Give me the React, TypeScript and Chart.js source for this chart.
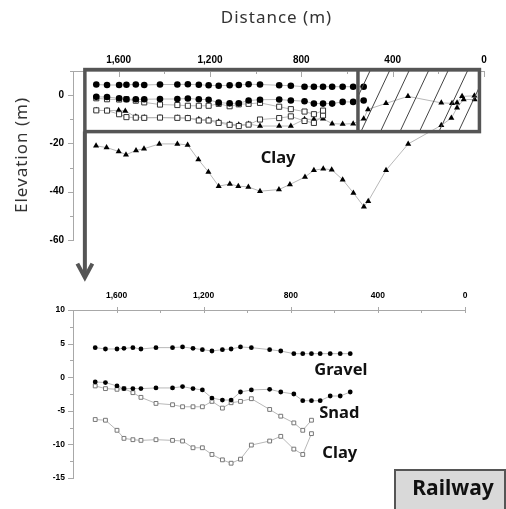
import { useEffect, useRef } from 'react';
import { Chart, registerables } from 'chart.js';

Chart.register(...registerables);

// ---------- data (distance in m, elevation in m) ----------
const stationDist = [1698, 1651, 1598, 1566, 1525, 1488, 1419, 1343, 1297, 1249, 1206, 1162, 1114, 1074, 1031, 981, 897, 846, 786, 745, 705, 665, 619, 573, 527];
const gravelTop = [4.4, 4.2, 4.2, 4.3, 4.4, 4.2, 4.4, 4.4, 4.5, 4.3, 4.1, 3.9, 4.1, 4.2, 4.5, 4.4, 4.1, 3.9, 3.5, 3.5, 3.5, 3.5, 3.5, 3.5, 3.5];
const sandTop = [-0.7, -0.8, -1.3, -1.7, -1.7, -1.7, -1.6, -1.6, -1.4, -1.7, -1.9, -3.1, -3.4, -3.4, -2.2, -1.9, -1.8, -2.2, -2.5, -3.5, -3.5, -3.5, -2.8, -2.8, -2.2];
const sandBottom = [-1.3, -1.7, -1.8, -1.7, -2.3, -3.0, -3.9, -4.1, -4.4, -4.4, -4.4, -3.6, -4.6, -3.8, -3.6, -3.2, -4.8, -5.8, -6.8, -7.9, -6.4];
const clayTop = [-6.3, -6.4, -7.9, -9.1, -9.3, -9.4, -9.3, -9.4, -9.5, -10.5, -10.5, -11.5, -12.3, -12.8, -12.2, -10.1, -9.5, -8.8, -10.7, -11.5, -8.4];

const upperTriDist = [1698, 1651, 1600, 1571, 1525, 1488, 1419, 1343, 1297, 1249, 1206, 1162, 1114, 1074, 1031, 981, 897, 846, 786, 745, 705, 665, 619, 573, 527, 508, 429, 333, 187, 140, 118, 96, 42];
const upperTri = [-6.3, -6.4, -6.3, -6.6, -9.0, -9.3, -9.3, -9.4, -9.5, -10.0, -10.2, -11.0, -12.0, -12.3, -12.0, -12.8, -12.8, -12.8, -10.0, -10.0, -9.8, -11.8, -12.0, -11.8, -9.8, -5.9, -3.4, -0.5, -3.2, -3.4, -3.2, -0.5, -0.3];

const deepTriDist = [1699, 1653, 1600, 1568, 1524, 1489, 1422, 1343, 1298, 1251, 1207, 1162, 1113, 1076, 1032, 981, 898, 850, 784, 745, 704, 667, 619, 572, 526, 507, 429, 332, 187, 143, 118, 89, 41];
const deepTri = [-21.0, -21.7, -23.3, -24.7, -22.9, -22.2, -20.2, -20.2, -20.6, -26.7, -31.8, -37.7, -36.8, -37.7, -38.0, -39.8, -39.1, -37.0, -33.9, -31.1, -30.5, -30.9, -35.0, -40.5, -46.2, -43.9, -31.1, -20.2, -12.5, -9.5, -5.2, -1.8, -1.8];

// axis settings
const distRange = [0, 1800];
const topElevRange = [-60, 10];
const bottomElevRange = [-15, 10];

// annotation anchors (data units)
const zoomBox = { far: 1748, split: 552, near: 20, top: 10.6, bottom: -15.1 };
const topLabels = [{ text: 'Clay', d: 902, v: -26.3 }];
const bottomLabels = [
  { text: 'Gravel', d: 570, v: 1.1 },
  { text: 'Snad', d: 577, v: -5.4 },
  { text: 'Clay', d: 575, v: -11.3 },
];

const AXIS = '#a8a8a8';
const LINE = '#b8b8b8';
const TICK_FONT = 'Liberation Sans';
const TEXT_FONT = '"Noto Sans", "Open Sans", sans-serif';

const pts = (d: number[], v: number[]) => v.map((y, i) => ({ x: d[i], y }));

function tickMarks(id: string, xMaj: [number, number], xMin: [number, number], yMaj: number, yMin: number) {
  return {
    id,
    afterDraw(chart: any) {
      const { ctx, chartArea: a, scales } = chart;
      const x = scales.x, y = scales.y;
      ctx.save();
      ctx.strokeStyle = AXIS;
      ctx.lineWidth = 1;
      ctx.beginPath();
      x.ticks.forEach((t: any) => {
        const px = Math.round(x.getPixelForValue(t.value)) + 0.5;
        const [s, e] = t.label ? xMaj : xMin;
        ctx.moveTo(px, a.top + s);
        ctx.lineTo(px, a.top + e);
      });
      y.ticks.forEach((t: any) => {
        const py = Math.round(y.getPixelForValue(t.value)) + 0.5;
        const len = t.label ? yMaj : yMin;
        ctx.moveTo(a.left - len, py);
        ctx.lineTo(a.left, py);
      });
      ctx.stroke();
      ctx.restore();
    },
  };
}

function axes(yMin: number, yMax: number, yStep: number, yLabelEvery: number, fontSize: number, yPad: number, xPad: number) {
  return {
    x: {
      type: 'linear',
      position: 'top',
      reverse: true,
      min: distRange[0],
      max: distRange[1],
      afterFit: (s: any) => { s.height = 30; },
      grid: { display: true, drawOnChartArea: false, drawTicks: false, color: 'rgba(0,0,0,0)' },
      border: { display: true, color: AXIS, width: 1 },
      ticks: {
        stepSize: 200,
        autoSkip: false,
        maxRotation: 0,
        padding: xPad,
        color: '#000',
        font: { family: TICK_FONT, weight: 'bold', size: fontSize },
        callback: (v: any) => (Number(v) % 400 === 0 ? Number(v).toLocaleString('en-US') : ''),
      },
    },
    y: {
      type: 'linear',
      min: yMin,
      max: yMax,
      afterFit: (s: any) => { s.width = 40; },
      grid: { display: true, drawOnChartArea: false, drawTicks: false, color: 'rgba(0,0,0,0)' },
      border: { display: true, color: AXIS, width: 1 },
      ticks: {
        stepSize: yStep,
        autoSkip: false,
        padding: yPad,
        color: '#000',
        font: { family: TICK_FONT, weight: 'bold', size: fontSize },
        callback: (v: any) => (Math.abs(Number(v) % yLabelEvery) < 1e-9 ? String(v) : ''),
      },
    },
  };
}

const topOverlay = {
  id: 'topOverlay',
  afterDraw(chart: any) {
    const { ctx, chartArea: a, scales } = chart;
    const x = scales.x, y = scales.y;
    ctx.save();
    // titles
    ctx.fillStyle = '#333';
    ctx.font = `17px ${TEXT_FONT}`;
    ctx.textAlign = 'center';
    ctx.textBaseline = 'middle';
    (ctx as any).letterSpacing = '1px';
    ctx.fillText('Distance (m)', (a.left + a.right) / 2 - 2, 18);
    ctx.save();
    ctx.translate(22, 155);
    ctx.rotate(-Math.PI / 2);
    ctx.fillText('Elevation (m)', 0, 0);
    ctx.restore();
    (ctx as any).letterSpacing = '0px';

    // box
    const bx0 = x.getPixelForValue(zoomBox.far);
    const bxm = x.getPixelForValue(zoomBox.split);
    const bx1 = x.getPixelForValue(zoomBox.near);
    const by0 = y.getPixelForValue(zoomBox.top);
    const by1 = y.getPixelForValue(zoomBox.bottom);

    // hatch
    ctx.save();
    ctx.beginPath();
    ctx.rect(bxm, by0, bx1 - bxm, by1 - by0);
    ctx.clip();
    ctx.strokeStyle = '#444';
    ctx.lineWidth = 1;
    ctx.beginPath();
    const h = by1 - by0;
    for (let k = -4; k < 12; k++) {
      const xb = bxm + 3 + k * 19.5;
      ctx.moveTo(xb, by1);
      ctx.lineTo(xb + h * 0.47, by0);
    }
    ctx.stroke();
    ctx.restore();

    ctx.strokeStyle = '#555';
    ctx.lineWidth = 3.5;
    ctx.lineJoin = 'miter';
    ctx.strokeRect(bx0, by0, bx1 - bx0, by1 - by0);
    ctx.beginPath();
    ctx.moveTo(bxm, by0);
    ctx.lineTo(bxm, by1);
    ctx.stroke();

    // arrow
    const tipY = by1 + 146;
    ctx.lineWidth = 4;
    ctx.beginPath();
    ctx.moveTo(bx0, by1);
    ctx.lineTo(bx0, tipY - 2);
    ctx.stroke();
    ctx.lineCap = 'butt';
    ctx.beginPath();
    ctx.moveTo(bx0 - 7.5, tipY - 14);
    ctx.lineTo(bx0, tipY);
    ctx.lineTo(bx0 + 7.5, tipY - 14);
    ctx.stroke();

    // labels
    ctx.fillStyle = '#111';
    ctx.font = `bold 16.5px ${TEXT_FONT}`;
    topLabels.forEach((l) => ctx.fillText(l.text, x.getPixelForValue(l.d), y.getPixelForValue(l.v)));
    ctx.restore();
  },
};

const bottomOverlay = {
  id: 'bottomOverlay',
  afterDraw(chart: any) {
    const { ctx, scales } = chart;
    const x = scales.x, y = scales.y;
    ctx.save();
    ctx.fillStyle = '#111';
    ctx.textAlign = 'center';
    ctx.textBaseline = 'middle';
    ctx.font = `bold 16.5px ${TEXT_FONT}`;
    bottomLabels.forEach((l) => ctx.fillText(l.text, x.getPixelForValue(l.d), y.getPixelForValue(l.v)));
    // Railway tag
    ctx.fillStyle = '#d9d9d9';
    ctx.fillRect(395, 470, 110, 45);
    ctx.strokeStyle = '#555';
    ctx.lineWidth = 2;
    ctx.strokeRect(395, 470, 110, 45);
    ctx.fillStyle = '#111';
    ctx.font = `bold 21px ${TEXT_FONT}`;
    ctx.fillText('Railway', 453, 489.5);
    ctx.restore();
  },
};

const lineBase = { borderColor: LINE, borderWidth: 1, tension: 0, fill: false };

export default function App() {
  const topRef = useRef<HTMLCanvasElement>(null);
  const botRef = useRef<HTMLCanvasElement>(null);

  useEffect(() => {
    const top = new Chart(topRef.current as HTMLCanvasElement, {
      type: 'line',
      data: {
        datasets: [
          { ...lineBase, label: 'Gravel', data: pts(stationDist, gravelTop), pointStyle: 'circle', pointRadius: 3.3, pointBackgroundColor: '#000', pointBorderWidth: 0 },
          { ...lineBase, label: 'Sand top', data: pts(stationDist, sandTop), pointStyle: 'circle', pointRadius: 3.3, pointBackgroundColor: '#000', pointBorderWidth: 0 },
          { ...lineBase, label: 'Sand bottom', data: pts(stationDist, sandBottom), pointStyle: 'rect', pointRadius: 3.6, pointBackgroundColor: '#fff', pointBorderColor: '#333', pointBorderWidth: 1 },
          { ...lineBase, label: 'Clay top', data: pts(stationDist, clayTop), pointStyle: 'rect', pointRadius: 3.6, pointBackgroundColor: '#fff', pointBorderColor: '#333', pointBorderWidth: 1 },
          { ...lineBase, label: 'Upper', data: pts(upperTriDist, upperTri), pointStyle: 'triangle', pointRadius: 3.5, pointBackgroundColor: '#000', pointBorderWidth: 0 },
          { ...lineBase, label: 'Deep', data: pts(deepTriDist, deepTri), pointStyle: 'triangle', pointRadius: 3.5, pointBackgroundColor: '#000', pointBorderWidth: 0 },
        ],
      },
      options: {
        responsive: false,
        animation: false,
        devicePixelRatio: 1,
        layout: { padding: { left: 33, top: 41, right: 22, bottom: 269 } },
        plugins: { legend: { display: false }, tooltip: { enabled: false }, title: { display: false } },
        scales: axes(topElevRange[0], topElevRange[1], 10, 20, 10, 9, 5) as any,
      },
      plugins: [tickMarks('topTicks', [0, 6], [0, 3], 5, 3), topOverlay],
    } as any);

    const bot = new Chart(botRef.current as HTMLCanvasElement, {
      type: 'line',
      data: {
        datasets: [
          { ...lineBase, label: 'Gravel', data: pts(stationDist, gravelTop), pointStyle: 'circle', pointRadius: 2.4, pointBackgroundColor: '#000', pointBorderWidth: 0 },
          { ...lineBase, label: 'Sand top', data: pts(stationDist, sandTop), pointStyle: 'circle', pointRadius: 2.4, pointBackgroundColor: '#000', pointBorderWidth: 0 },
          { ...lineBase, label: 'Sand bottom', data: pts(stationDist, sandBottom), pointStyle: 'rect', pointRadius: 2.7, pointBackgroundColor: '#fff', pointBorderColor: '#777', pointBorderWidth: 1 },
          { ...lineBase, label: 'Clay top', data: pts(stationDist, clayTop), pointStyle: 'rect', pointRadius: 2.7, pointBackgroundColor: '#fff', pointBorderColor: '#777', pointBorderWidth: 1 },
        ],
      },
      options: {
        responsive: false,
        animation: false,
        devicePixelRatio: 1,
        layout: { padding: { left: 33, top: 280, right: 41, bottom: 31 } },
        plugins: { legend: { display: false }, tooltip: { enabled: false }, title: { display: false } },
        scales: axes(bottomElevRange[0], bottomElevRange[1], 2.5, 5, 8.5, 8, 9) as any,
      },
      plugins: [tickMarks('botTicks', [-3, 3], [0, 3], 5, 3), bottomOverlay],
    } as any);

    return () => {
      top.destroy();
      bot.destroy();
    };
  }, []);

  return (
    <div style={{ position: 'fixed', left: 0, top: 0, width: 506, height: 509, background: '#fff' }}>
      <canvas ref={botRef} width={506} height={509} style={{ position: 'absolute', left: 0, top: 0 }} />
      <canvas ref={topRef} width={506} height={509} style={{ position: 'absolute', left: 0, top: 0 }} />
    </div>
  );
}
